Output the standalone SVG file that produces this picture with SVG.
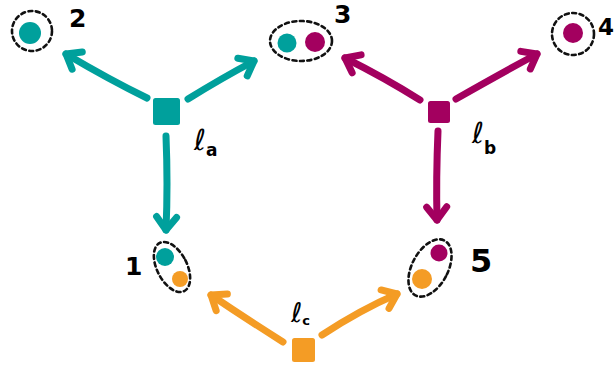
<svg xmlns="http://www.w3.org/2000/svg" width="615" height="367" viewBox="0 0 615 367">
<style>
.bg{fill:#fff}
.grp{fill:none;stroke:#111;stroke-width:2.6;stroke-dasharray:4 3.5;stroke-linecap:round}
.t{fill:#00a09c}.m{fill:#a3005f}.o{fill:#f49c25}
.lt,.lm,.lo{fill:none;stroke-width:7;stroke-linecap:round;stroke-linejoin:round}
.lt{stroke:#00a09c}.lm{stroke:#a3005f}.lo{stroke:#f49c25}
.lbl{font-family:"DejaVu Sans",sans-serif;fill:#000;font-weight:bold}
.ell{font-family:"DejaVu Sans",sans-serif;fill:#000;font-style:italic}
</style>
<defs>
<marker id="at" markerUnits="userSpaceOnUse" viewBox="-20 -20 40 40" markerWidth="40" markerHeight="40" refX="0" refY="0" orient="auto"><path d="M-13,-10 L0,0 L-13,10" fill="none" stroke="#00a09c" stroke-width="7" stroke-linecap="round" stroke-linejoin="round"/></marker>
<marker id="am" markerUnits="userSpaceOnUse" viewBox="-20 -20 40 40" markerWidth="40" markerHeight="40" refX="0" refY="0" orient="auto"><path d="M-13,-10 L0,0 L-13,10" fill="none" stroke="#a3005f" stroke-width="7" stroke-linecap="round" stroke-linejoin="round"/></marker>
<marker id="ao" markerUnits="userSpaceOnUse" viewBox="-20 -20 40 40" markerWidth="40" markerHeight="40" refX="0" refY="0" orient="auto"><path d="M-13,-10 L0,0 L-13,10" fill="none" stroke="#f49c25" stroke-width="7" stroke-linecap="round" stroke-linejoin="round"/></marker>
</defs>
<rect class="bg" width="615" height="367"/>
<g id="connectors">
<path class="lt" d="M147,98 Q110,80 66,54" marker-end="url(#at)"/>
<path class="lt" d="M188,99 Q222,78 254,61" marker-end="url(#at)"/>
<path class="lt" d="M166,136 Q168,185 166,230" marker-end="url(#at)"/>
<path class="lm" d="M420,100 Q385,78 345,58" marker-end="url(#am)"/>
<path class="lm" d="M456,99 Q500,74 537,54" marker-end="url(#am)"/>
<path class="lm" d="M438,131 Q436,178 437,220" marker-end="url(#am)"/>
<path class="lo" d="M283,342 Q245,318 211,295" marker-end="url(#ao)"/>
<path class="lo" d="M322,335 Q360,310 397,294" marker-end="url(#ao)"/>
</g>
<g id="node-2">
<circle class="grp" cx="32" cy="31" r="20"/>
<circle class="t" cx="30" cy="33" r="11"/>
<text class="lbl" x="69" y="27" font-size="25">2</text>
</g>
<g id="node-3">
<ellipse class="grp" cx="301" cy="41" rx="31" ry="20"/>
<circle class="t" cx="287" cy="43" r="9.5"/>
<circle class="m" cx="315" cy="42" r="10"/>
<text class="lbl" x="334" y="23" font-size="25">3</text>
</g>
<g id="node-4">
<circle class="grp" cx="573" cy="34" r="21"/>
<circle class="m" cx="573" cy="33" r="10"/>
<text class="lbl" x="598" y="35" font-size="23">4</text>
</g>
<g id="node-1">
<ellipse class="grp" cx="172" cy="267" rx="15" ry="27" transform="rotate(-27 172 267)"/>
<circle class="t" cx="165" cy="257" r="9"/>
<circle class="o" cx="180" cy="279" r="8"/>
<text class="lbl" x="125" y="275" font-size="25">1</text>
</g>
<g id="node-5">
<ellipse class="grp" cx="430" cy="268" rx="18" ry="31" transform="rotate(28 430 268)"/>
<circle class="m" cx="439" cy="253" r="8.5"/>
<circle class="o" cx="422" cy="279" r="10"/>
<text class="lbl" x="470" y="272" font-size="32">5</text>
</g>
<g id="factor-a">
<rect class="t" x="153" y="98" width="27" height="27" rx="2.5"/>
<text class="ell" x="194" y="150" font-size="29">ℓ<tspan font-size="17" font-style="normal" font-weight="bold" dy="6">a</tspan></text>
</g>
<g id="factor-b">
<rect class="m" x="428" y="101" width="22" height="22" rx="2.5"/>
<text class="ell" x="472" y="143" font-size="29">ℓ<tspan font-size="17" font-style="normal" font-weight="bold" dy="11">b</tspan></text>
</g>
<g id="factor-c">
<rect class="o" x="292" y="338" width="23" height="24" rx="2.5"/>
<text class="ell" x="291" y="322" font-size="27">ℓ<tspan font-size="13" font-style="normal" font-weight="bold" dy="3">c</tspan></text>
</g>
</svg>
